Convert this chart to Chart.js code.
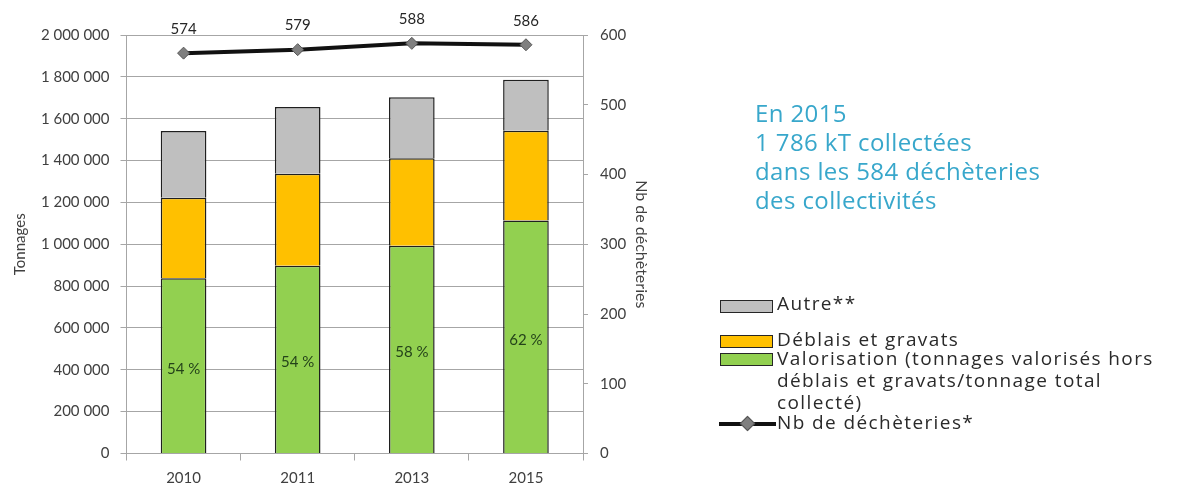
<!DOCTYPE html>
<html>
<head>
<meta charset="utf-8">
<script src="https://cdn.jsdelivr.net/npm/chart.js@4"></script>
<style>
html,body{margin:0;padding:0;background:#fff;}
#wrap{position:relative;width:1182px;height:487px;overflow:hidden;background:#fff;}
#c{position:absolute;left:0;top:0;}
.note{position:absolute;left:755px;top:98px;font-family:"Open Sans",sans-serif;font-size:24px;line-height:29px;letter-spacing:0.4px;color:#38a7cb;white-space:nowrap;}
.lg{position:absolute;font-family:"Open Sans",sans-serif;font-size:19px;line-height:22px;letter-spacing:1.4px;color:#2a2a2a;white-space:nowrap;}
.box{position:absolute;width:53px;height:13px;box-sizing:border-box;border:1.5px solid #262626;}
.lline{position:absolute;width:57px;height:4px;background:#111;}
.ldia{position:absolute;width:9px;height:9px;background:#7f7f7f;border:1px solid #555;transform:rotate(45deg);}
</style>
</head>
<body>
<div id="wrap">
<canvas id="c" width="1182" height="487"></canvas>
<div class="note">En 2015<br>1 786 kT collectées<br>dans les 584 déchèteries<br>des collectivités</div>

<div class="box" style="left:720px;top:300px;background:#bfbfbf;"></div>
<div class="lg" style="left:777px;top:292px;">Autre**</div>

<div class="box" style="left:720px;top:335px;background:#ffc000;"></div>
<div class="lg" style="left:777px;top:328px;">Déblais et gravats</div>

<div class="box" style="left:720px;top:353px;background:#92d050;"></div>
<div class="lg" style="left:777px;top:347px;">Valorisation (tonnages valorisés hors<br>déblais et gravats/tonnage total<br>collecté)</div>

<div class="lline" style="left:719px;top:422px;"></div>
<div class="ldia" style="left:742px;top:418px;"></div>
<div class="lg" style="left:777px;top:411px;">Nb de déchèteries*</div>
</div>

<script>
const categories = ['2010', '2011', '2013', '2015'];
const valorisation = [837000, 897000, 993000, 1114000];
const deblais = [385000, 440000, 418000, 428000];
const autre = [319000, 319000, 291000, 244000];
const nbDecheteries = [574, 579, 588, 586];
const valorisationPct = [54, 54, 58, 62];

const seriesNames = ['Valorisation (tonnages valorisés hors déblais et gravats/tonnage total collecté)', 'Déblais et gravats', 'Autre**', 'Nb de déchèteries*'];

function fmtFr(v) {
  return String(v).replace(/\B(?=(\d{3})+(?!\d))/g, ' ');
}

const FONT = 'Lato';
const GRID = '#a6a6a6';
const TXT = '#404040';

const labelPlugin = {
  id: 'valueLabels',
  afterDatasetsDraw(chart) {
    const ctx = chart.ctx;
    ctx.save();
    ctx.textAlign = 'center';
    ctx.textBaseline = 'middle';
    ctx.font = '15px ' + FONT;
    ctx.fillStyle = '#262626';
    chart.getDatasetMeta(3).data.forEach((p, i) => {
      ctx.fillText(String(nbDecheteries[i]), p.x, p.y - 24);
    });
    ctx.fillStyle = '#24421a';
    chart.getDatasetMeta(0).data.forEach((b, i) => {
      const cy = (b.y + b.base) / 2 + 3;
      ctx.fillText(valorisationPct[i] + ' %', b.x, cy);
    });
    ctx.restore();
  }
};

new Chart(document.getElementById('c'), {
  data: {
    labels: categories,
    datasets: [
      { type: 'bar', label: seriesNames[0], data: valorisation, backgroundColor: '#92d050', borderColor: '#1f1f1f', borderWidth: 1.5, yAxisID: 'y', order: 2 },
      { type: 'bar', label: seriesNames[1], data: deblais, backgroundColor: '#ffc000', borderColor: '#1f1f1f', borderWidth: 1.5, yAxisID: 'y', order: 2 },
      { type: 'bar', label: seriesNames[2], data: autre, backgroundColor: '#bfbfbf', borderColor: '#1f1f1f', borderWidth: 1.5, yAxisID: 'y', order: 2 },
      { type: 'line', label: seriesNames[3], data: nbDecheteries, borderColor: '#111111', borderWidth: 4, pointStyle: 'rectRot', pointRadius: 6, pointBackgroundColor: '#7f7f7f', pointBorderColor: '#555555', pointBorderWidth: 1, yAxisID: 'y1', order: 1, tension: 0 }
    ]
  },
  options: {
    responsive: false,
    animation: false,
    devicePixelRatio: 1,
    datasets: { bar: { categoryPercentage: 1, barPercentage: 0.4 } },
    layout: { padding: { top: 35, left: 8, right: 527.4, bottom: 0 } },
    plugins: { legend: { display: false }, tooltip: { enabled: false } },
    scales: {
      x: {
        stacked: true,
        offset: true,
        grid: { display: true, drawOnChartArea: false, drawTicks: true, tickLength: 7, offset: true, color: GRID },
        border: { display: true, color: GRID },
        ticks: { font: { family: FONT, size: 15 }, color: TXT, padding: 9 },
        afterFit(s) { s.height = 33.5; }
      },
      y: {
        position: 'left',
        stacked: true,
        min: 0, max: 2000000,
        ticks: { stepSize: 200000, callback: (v) => fmtFr(v), font: { family: FONT, size: 15 }, color: TXT, padding: 11 },
        grid: { color: GRID, tickLength: 6 },
        border: { display: true, color: GRID },
        title: { display: true, text: 'Tonnages', font: { family: FONT, size: 15 }, color: TXT, padding: 3 },
        afterFit(s) { s.width = 118.5; }
      },
      y1: {
        position: 'right',
        min: 0, max: 600,
        ticks: { stepSize: 100, font: { family: FONT, size: 15 }, color: TXT, padding: 12 },
        grid: { drawOnChartArea: false, tickLength: 5, color: GRID },
        border: { display: true, color: GRID },
        title: { display: true, text: 'Nb de déchèteries', font: { family: FONT, size: 16 }, color: TXT, padding: 4 },
        afterFit(s) { s.width = 71.6; }
      }
    }
  },
  plugins: [labelPlugin]
});
</script>
</body>
</html>
